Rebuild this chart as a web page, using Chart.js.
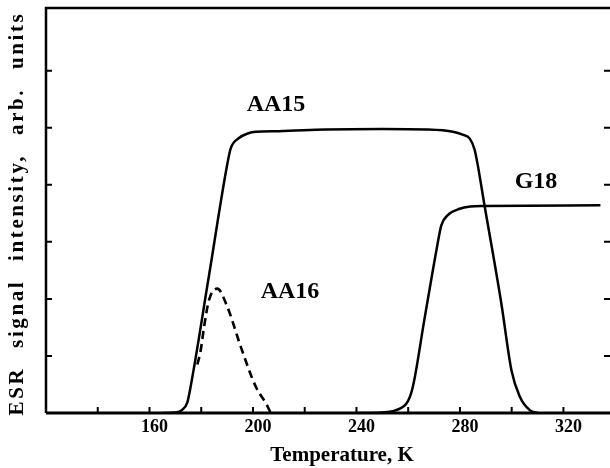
<!DOCTYPE html>
<html>
<head>
<meta charset="utf-8">
<title>ESR signal intensity</title>
<script src="https://cdn.jsdelivr.net/npm/chart.js@4.4.0/dist/chart.umd.min.js"></script>
<style>
  html, body { margin: 0; padding: 0; background: #fff; }
  canvas { display: block; }
</style>
</head>
<body>
<canvas id="esrChart" width="610" height="468"></canvas>
<script>
// Amostra AA15: temperatura (K) e intensidade do sinal
const temperatureAA15 = [165, 170, 172.5, 174.6, 175.9, 183, 190.1, 191.4, 194.6, 198, 201.1, 210, 228, 250, 267, 277.3, 281, 283.8, 285.7, 289.6, 296, 299.9, 303.1, 307, 310.2];
const signalAA15 = [0, 0.01, 0.05, 0.18, 0.46, 2.41, 4.37, 4.64, 4.82, 4.9, 4.93, 4.94, 4.97, 4.98, 4.97, 4.93, 4.88, 4.81, 4.61, 3.61, 1.92, 0.75, 0.29, 0.05, 0];

// Amostra AA16 (tracejada)
const temperatureAA16 = [178.5, 179.8, 181.1, 183.0, 186.2, 190.1, 195.3, 201.1, 205.0, 206.9];
const signalAA16 = [0.85, 1.10, 1.51, 1.98, 2.18, 1.86, 1.16, 0.46, 0.17, 0];

// Amostra G18
const temperatureG18 = [240, 250, 255.3, 259.8, 261.8, 266.3, 270.9, 272.8, 275.3, 279.9, 284, 288.9, 334.3];
const signalG18 = [0, 0.01, 0.05, 0.2, 0.46, 1.65, 2.85, 3.29, 3.47, 3.58, 3.62, 3.63, 3.64];

// Marcas dos eixos
const xTicks = [140, 160, 180, 200, 220, 240, 260, 280, 300, 320];
const xTickLabels = [160, 200, 240, 280, 320];
const yTicks = [1, 2, 3, 4, 5, 6];

// Nomes das curvas (em unidades do gráfico)
const curveLabels = [
    { text: 'AA15', x: 208.9, y: 5.40 },
    { text: 'AA16', x: 214.3, y: 2.13 },
    { text: 'G18', x: 309.4, y: 4.06 }
];

const serif = "'Liberation Serif', 'Times New Roman', serif";

function toPoints(xs, ys) {
    return xs.map((x, i) => ({ x: x, y: ys[i] }));
}

// Moldura, marcas internas, nomes das curvas e títulos dos eixos
const framePlugin = {
    id: 'frame',
    afterDraw(chart) {
        const ctx = chart.ctx;
        const area = chart.chartArea;
        const xs = chart.scales.x;
        const ys = chart.scales.y;

        ctx.save();
        ctx.strokeStyle = '#000';
        ctx.lineCap = 'butt';

        // bordas
        ctx.lineWidth = 2.5;
        ctx.beginPath();
        ctx.moveTo(area.left, area.bottom);
        ctx.lineTo(area.left, area.top);
        ctx.lineTo(area.right, area.top);
        ctx.stroke();
        ctx.lineWidth = 3;
        ctx.beginPath();
        ctx.moveTo(area.left, area.bottom);
        ctx.lineTo(area.right, area.bottom);
        ctx.stroke();

        // marcas do eixo x (para dentro)
        ctx.lineWidth = 2;
        xTicks.forEach((v) => {
            const px = xs.getPixelForValue(v);
            ctx.beginPath();
            ctx.moveTo(px, area.bottom);
            ctx.lineTo(px, area.bottom - 6);
            ctx.stroke();
        });

        // marcas do eixo y, esquerda e direita
        yTicks.forEach((v) => {
            const py = ys.getPixelForValue(v);
            ctx.beginPath();
            ctx.moveTo(area.left, py);
            ctx.lineTo(area.left + 6, py);
            ctx.moveTo(area.right - 6, py);
            ctx.lineTo(area.right, py);
            ctx.stroke();
        });

        // nomes das curvas
        ctx.fillStyle = '#000';
        ctx.font = 'bold 24px ' + serif;
        ctx.textAlign = 'center';
        ctx.textBaseline = 'middle';
        curveLabels.forEach((lbl) => {
            ctx.fillText(lbl.text, xs.getPixelForValue(lbl.x), ys.getPixelForValue(lbl.y));
        });

        // título do eixo x
        ctx.font = 'bold 21px ' + serif;
        ctx.fillText('Temperature, K', (area.left + area.right) / 2 + 14, chart.height - 12);

        // título do eixo y
        ctx.translate(18, (area.top + area.bottom) / 2 + 3);
        ctx.rotate(-Math.PI / 2);
        ctx.font = 'bold 21px ' + serif;
        ctx.letterSpacing = '2.6px';
        ctx.wordSpacing = '11px';
        ctx.fillText('ESR signal intensity, arb. units', 0, 0);
        ctx.restore();
    }
};

const config = {
    type: 'line',
    data: {
        datasets: [{
            label: 'AA15',
            data: toPoints(temperatureAA15, signalAA15),
            borderColor: '#000',
            borderWidth: 2.5
        }, {
            label: 'AA16',
            data: toPoints(temperatureAA16, signalAA16),
            borderColor: '#000',
            borderWidth: 2.6,
            borderDash: [8, 5]
        }, {
            label: 'G18',
            data: toPoints(temperatureG18, signalG18),
            borderColor: '#000',
            borderWidth: 2.5
        }]
    },
    options: {
        responsive: false,
        animation: false,
        devicePixelRatio: 1,
        layout: {
            padding: { left: 46, top: 8, right: 0, bottom: 0 }
        },
        elements: {
            point: { radius: 0 },
            line: { cubicInterpolationMode: 'monotone', fill: false }
        },
        scales: {
            x: {
                type: 'linear',
                min: 120,
                max: 338,
                grid: { display: false, drawTicks: false },
                border: { display: false },
                afterBuildTicks: (scale) => {
                    scale.ticks = xTickLabels.map((v) => ({ value: v }));
                },
                afterFit: (scale) => {
                    scale.height = 55;
                },
                ticks: {
                    padding: 4,
                    labelOffset: 5,
                    maxRotation: 0,
                    color: '#000',
                    font: { family: serif, size: 18, weight: 'bold' }
                }
            },
            y: {
                display: false,
                min: 0,
                max: 7.1
            }
        },
        plugins: {
            legend: { display: false },
            tooltip: { enabled: false }
        }
    },
    plugins: [framePlugin]
};

// Inicializando o gráfico
const ctx = document.getElementById('esrChart').getContext('2d');
const esrChart = new Chart(ctx, config);
</script>
</body>
</html>
